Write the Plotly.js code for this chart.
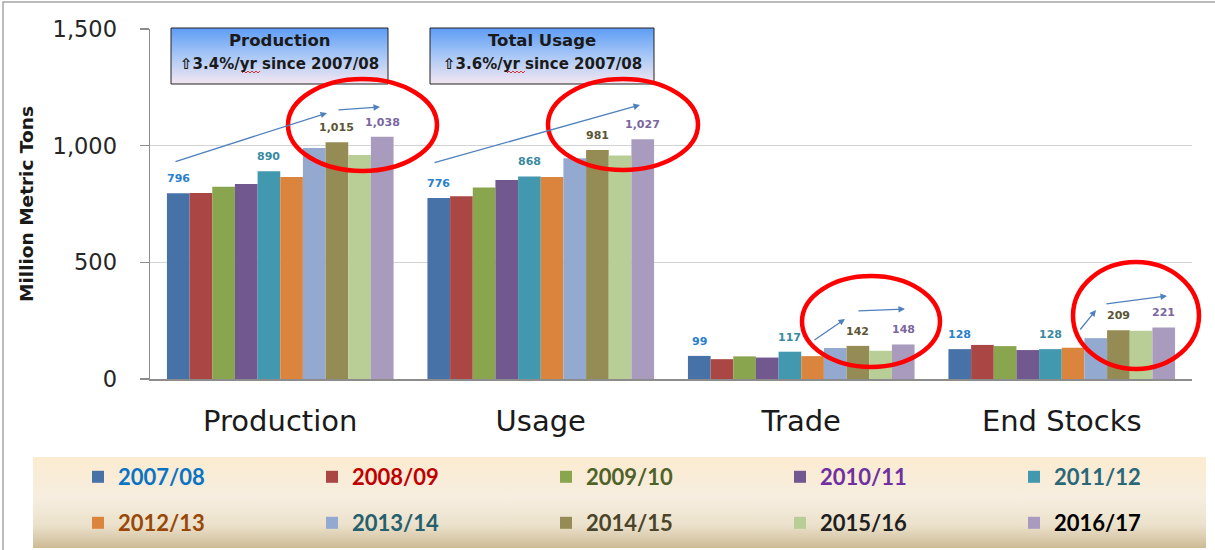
<!DOCTYPE html>
<html>
<head>
<meta charset="utf-8">
<script src="https://cdn.plot.ly/plotly-3.0.1.min.js"></script>
<style>
  html, body { margin: 0; padding: 0; background: #ffffff; }
  #chart { width: 1215px; height: 550px; }
</style>
</head>
<body>
<div id="chart"></div>
<script>
// ---------------- data ----------------
const categories = ['Production', 'Usage', 'Trade', 'End Stocks'];
const years = ['2007/08', '2008/09', '2009/10', '2010/11', '2011/12',
               '2012/13', '2013/14', '2014/15', '2015/16', '2016/17'];
const production = [796, 797, 824, 836, 890, 866, 990, 1015, 960, 1038];
const usage      = [776, 783, 821, 853, 868, 866, 946, 981, 958, 1027];
const trade      = [99, 85, 97, 92, 117, 98, 133, 142, 121, 148];
const endStocks  = [128, 146, 141, 124, 128, 134, 175, 209, 207, 221];

const barColors = ['#4672a8', '#aa4644', '#89a54e', '#71588f', '#4198af',
                   '#db843d', '#93a9cf', '#958b55', '#b9cd96', '#a99bbd'];
const legendTextColors = ['#0a74c4', '#c00000', '#4f6228', '#7030a0', '#2a6878',
                          '#984807', '#25606e', '#4a452a', '#1f1f1f', '#000000'];
const labeledYears = [0, 4, 7, 9];
const labelColors = ['#2a80cc', '#3a8aa0', '#5a5535', '#7a67a0'];

const boxTitles = ['Production', 'Total Usage'];
const boxSubtitles = ['\u21e73.4%/yr since 2007/08', '\u21e73.6%/yr since 2007/08'];
const yTickVals = [0, 500, 1000, 1500];

// ---------------- geometry helpers (decorations only) ----------------
const W = 1215, H = 550, L = 150, R = 23, T = 29, B = 171;
const PW = W - L - R, PH = H - T - B;
const Y_MAX = 1500;
const BARGAP = 0.13;
const px = x => (x - L) / PW;                 // pixel -> paper x
const py = y => (T + PH - y) / PH;            // pixel -> paper y
const dx = x => (x - L) / (PW / categories.length) - 0.5;   // pixel -> category units
const dy = y => (T + PH - y) * Y_MAX / PH;                   // pixel -> data y

const seriesValues = years.map((_, i) => [production[i], usage[i], trade[i], endStocks[i]]);

// legend grid: 2 rows x 5 columns, one legend per entry
const LEG_COLS = 5, LEG_X0 = 78, LEG_DX = 234, LEG_ROW_Y = [477, 523];
const legendId = i => (i === 0 ? 'legend' : 'legend' + (i + 1));

// ---------------- traces ----------------
const traces = years.map((yr, i) => ({
  type: 'bar',
  name: '<span style="color:' + legendTextColors[i] + '">' + yr + '</span>',
  x: categories,
  y: seriesValues[i],
  marker: { color: barColors[i], line: { width: 0 } },
  legend: legendId(i),
  hovertemplate: yr + ' %{x}: %{y}<extra></extra>'
}));

// ---------------- annotations ----------------
const annotations = [];
const barW = (1 - BARGAP) / years.length;
labeledYears.forEach((s, k) => {
  categories.forEach((cat, c) => {
    const v = seriesValues[s][c];
    annotations.push({
      x: c + (s - (years.length - 1) / 2) * barW, y: v, xref: 'x', yref: 'y',
      text: v.toLocaleString('en-US'), showarrow: false,
      yanchor: 'bottom', yshift: 6,
      font: { family: 'DejaVu Sans', size: 11, weight: 700, color: labelColors[k] }
    });
  });
});

// trend arrows (tail px, head px)
const arrowsPx = [
  [[174, 162], [327, 113]], [[337, 110], [380, 107]],
  [[433, 163], [640, 105]],
  [[813, 341], [845, 319]], [[857, 311], [905, 309]],
  [[1079, 331], [1096, 310]], [[1105, 304], [1167, 296]]
];
arrowsPx.forEach(a => {
  annotations.push({
    xref: 'x', yref: 'y', axref: 'x', ayref: 'y',
    x: dx(a[1][0]), y: dy(a[1][1]), ax: dx(a[0][0]), ay: dy(a[0][1]),
    text: '', showarrow: true, arrowhead: 2, arrowsize: 1, arrowwidth: 1.3,
    arrowcolor: '#4f81bd', standoff: 0, startstandoff: 0
  });
});

// title boxes
const boxesPx = [[171, 28, 388, 84], [430, 28, 654, 84]];
boxesPx.forEach((b, i) => {
  const cx = px((b[0] + b[2]) / 2);
  annotations.push({
    xref: 'paper', yref: 'paper', x: cx, y: py(41), text: '<b>' + boxTitles[i] + '</b>',
    showarrow: false, xanchor: 'center', yanchor: 'middle',
    font: { family: 'DejaVu Sans', size: 16.5, color: '#1a1a1a' }
  });
  annotations.push({
    xref: 'paper', yref: 'paper', x: cx, y: py(64), text: '<b>' + boxSubtitles[i] + '</b>',
    showarrow: false, xanchor: 'center', yanchor: 'middle',
    font: { family: 'DejaVu Sans', size: 15, color: '#1a1a1a' }
  });
});

// ---------------- shapes ----------------
const shapes = [];
// outer chart border (top & left visible)
shapes.push({ type: 'rect', xref: 'paper', yref: 'paper', x0: px(3), y0: py(620), x1: px(1300), y1: py(2),
  line: { color: '#a6a6a6', width: 1.5 }, fillcolor: 'rgba(0,0,0,0)', layer: 'above' });
boxesPx.forEach(b => {
  shapes.push({ type: 'rect', xref: 'paper', yref: 'paper', x0: px(b[0]), x1: px(b[2]), y0: py(b[3]), y1: py(b[1]),
    line: { color: '#222222', width: 1 }, fillcolor: 'rgba(0,0,0,0)', layer: 'above' });
});
// spell-check squiggles under "yr"
[[242, 260], [507, 526]].forEach(s => {
  let d = 'M' + px(s[0]) + ',' + py(73);
  for (let x = s[0] + 2, k = 1; x <= s[1]; x += 2, k++) {
    d += ' L' + px(x) + ',' + py(k % 2 ? 71 : 73);
  }
  shapes.push({ type: 'path', xref: 'paper', yref: 'paper', path: d, line: { color: '#e03030', width: 1 }, layer: 'above' });
});
// red highlight ellipses
const ellipsesPx = [[288, 79, 437, 171], [548, 79, 698, 170], [802, 276, 940, 367], [1073, 262, 1199, 369]];
ellipsesPx.forEach(e => {
  shapes.push({ type: 'circle', xref: 'paper', yref: 'paper', x0: px(e[0]), x1: px(e[2]), y0: py(e[3]), y1: py(e[1]),
    line: { color: '#ff0000', width: 4.5 }, fillcolor: 'rgba(0,0,0,0)', layer: 'above' });
});

// ---------------- gradient images ----------------
function gradSvg(w, h, stops) {
  const st = stops.map(s => '<stop offset="' + s[0] + '" stop-color="' + s[1] + '"/>').join('');
  const svg = '<svg xmlns="http://www.w3.org/2000/svg" width="' + w + '" height="' + h +
    '" viewBox="0 0 ' + w + ' ' + h + '" preserveAspectRatio="none"><defs><linearGradient id="g" x1="0" y1="0" x2="0" y2="1">' +
    st + '</linearGradient></defs><rect width="' + w + '" height="' + h + '" fill="url(#g)"/></svg>';
  return 'data:image/svg+xml;charset=utf-8,' + encodeURIComponent(svg);
}
const images = [];
boxesPx.forEach(b => {
  images.push({ source: gradSvg(b[2] - b[0], b[3] - b[1], [[0, '#5d9cf6'], [0.5, '#a9c8f6'], [1, '#f3e6f1']]),
    xref: 'paper', yref: 'paper', x: px(b[0]), y: py(b[1]), sizex: (b[2] - b[0]) / PW, sizey: (b[3] - b[1]) / PH,
    xanchor: 'left', yanchor: 'top', sizing: 'stretch', layer: 'above' });
});
const legendBoxPx = [33, 457, 1206, 548];
images.push({ source: gradSvg(legendBoxPx[2] - legendBoxPx[0], legendBoxPx[3] - legendBoxPx[1],
    [[0, '#fcebd0'], [0.45, '#f6eee0'], [0.75, '#ebe1cb'], [1, '#cdbb96']]),
  xref: 'paper', yref: 'paper', x: px(legendBoxPx[0]), y: py(legendBoxPx[1]),
  sizex: (legendBoxPx[2] - legendBoxPx[0]) / PW, sizey: (legendBoxPx[3] - legendBoxPx[1]) / PH,
  xanchor: 'left', yanchor: 'top', sizing: 'stretch', layer: 'above' });

// ---------------- layout ----------------
const legendFont = { family: 'Lato', size: 22, weight: 700, color: '#000' };

const layout = {
  width: W, height: H,
  margin: { l: L, r: R, t: T, b: B, pad: 0 },
  paper_bgcolor: '#ffffff', plot_bgcolor: '#ffffff',
  barmode: 'group', bargap: BARGAP, bargroupgap: 0,
  showlegend: true,
  xaxis: {
    type: 'category', categoryorder: 'array', categoryarray: categories,
    showline: true, linecolor: '#8c8c8c', linewidth: 1.5,
    ticks: '', showgrid: false, ticklabelstandoff: 16,
    tickfont: { family: 'DejaVu Sans', size: 29, color: '#1a1a1a' },
    fixedrange: true
  },
  yaxis: {
    range: [0, Y_MAX], tickvals: yTickVals, tickformat: ',d',
    showline: true, linecolor: '#8c8c8c', linewidth: 1.5,
    ticks: 'outside', ticklen: 9, tickcolor: '#8c8c8c', tickwidth: 1.5,
    showgrid: true, gridcolor: '#d4d4d4', gridwidth: 1.5, zeroline: false,
    ticklabelstandoff: 18,
    tickfont: { family: 'DejaVu Sans', size: 22.5, color: '#262626' },
    title: { text: 'Million Metric Tons', standoff: 14,
      font: { family: 'DejaVu Sans', size: 18.5, weight: 700, color: '#1a1a1a' } },
    fixedrange: true
  },
  annotations: annotations,
  shapes: shapes,
  images: images
};

years.forEach((yr, i) => {
  const col = i % LEG_COLS, row = Math.floor(i / LEG_COLS);
  layout[legendId(i)] = {
    orientation: 'h', xref: 'container', yref: 'container',
    xanchor: 'left', yanchor: 'middle',
    x: (LEG_X0 + col * LEG_DX) / W, y: 1 - LEG_ROW_Y[row] / H,
    bgcolor: 'rgba(0,0,0,0)', borderwidth: 0, font: legendFont
  };
});

Plotly.newPlot('chart', traces, layout, { displayModeBar: false, staticPlot: true });
</script>
</body>
</html>
